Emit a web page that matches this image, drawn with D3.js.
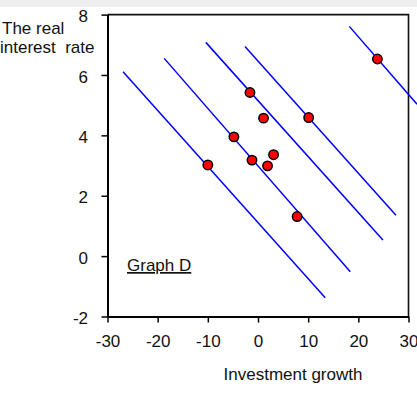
<!DOCTYPE html>
<html>
<head>
<meta charset="utf-8">
<script src="https://cdn.jsdelivr.net/npm/d3@7"></script>
<style>
  body { margin: 0; background: #fff; }
  svg { display: block; font-family: "Liberation Sans", Arial, sans-serif; }
</style>
</head>
<body>
<div id="chart"></div>
<script>
// points: investment growth vs real interest rate
const growth = [-10.0, -4.8, -1.6, -1.2, 1.1, 1.9, 3.1, 7.8, 10.1, 23.8];
const rate   = [3.02, 3.95, 5.42, 3.18, 4.57, 2.99, 3.36, 1.31, 4.59, 6.53];

// parallel blue lines, start and end points [x, y]
const lineStarts = [[-26.9, 6.11], [-18.7, 6.55], [-10.4, 7.08], [-2.6, 6.94], [18.2, 7.61]];
const lineEnds   = [[13.4, -1.38], [18.4, -0.52], [24.9, 0.53], [27.5, 1.35], [31.7, 5.03]];

const xTicks = [-30, -20, -10, 0, 10, 20, 30];
const yTicks = [-2, 0, 2, 4, 6, 8];

const W = 417, H = 394;
const plot = { left: 107.5, right: 408.5, top: 14.6, bottom: 316.5 };

const svg = d3.select('#chart').append('svg')
    .attr('width', W)
    .attr('height', H);

// light grey strip along the top edge
svg.append('rect')
    .attr('x', 0).attr('y', 0)
    .attr('width', W).attr('height', 7)
    .attr('fill', '#efefef');

const x = d3.scaleLinear().domain([-30, 30]).range([plot.left, plot.right]);
const y = d3.scaleLinear().domain([-2, 8]).range([plot.bottom, plot.top]);

// frame: top and right edges
svg.append('path')
    .attr('d', `M${plot.left},${plot.top}H${plot.right}V${plot.bottom}`)
    .attr('fill', 'none')
    .attr('stroke', '#111')
    .attr('stroke-width', 1.6);

// the blue lines
const segs = lineStarts.map((s, i) => ({ s: s, e: lineEnds[i] }));
svg.append('g').selectAll('line')
    .data(segs)
    .join('line')
    .attr('x1', d => x(d.s[0]))
    .attr('y1', d => y(d.s[1]))
    .attr('x2', d => x(d.e[0]))
    .attr('y2', d => y(d.e[1]))
    .attr('stroke', '#0000ff')
    .attr('stroke-width', 1.5);

// axes (plain hyphen for negatives, like the original)
const fmt = d => String(d);
const yAxis = d3.axisLeft(y).tickValues(yTicks).tickFormat(fmt)
    .tickSize(6).tickSizeOuter(0).tickPadding(13.5);
const yG = svg.append('g')
    .attr('transform', `translate(${plot.left},0)`)
    .call(yAxis);

const xAxis = d3.axisBottom(x).tickValues(xTicks).tickFormat(fmt)
    .tickSize(6).tickSizeOuter(0);
const xG = svg.append('g')
    .attr('transform', `translate(0,${plot.bottom})`)
    .call(xAxis);

[yG, xG].forEach(g => {
    g.select('.domain').attr('stroke', '#000').attr('stroke-width', 2);
    g.selectAll('.tick line').attr('stroke', '#000').attr('stroke-width', 1.5);
    g.selectAll('.tick text')
        .attr('fill', '#111')
        .style('font-size', '17px')
        .style('font-family', '"Liberation Sans", Arial, sans-serif');
});
yG.selectAll('.tick text').attr('dy', '0.42em');
xG.selectAll('.tick text').attr('y', 30).attr('dy', 0);

// points
svg.append('g').selectAll('circle')
    .data(growth.map((g, i) => ({ g: g, r: rate[i] })))
    .join('circle')
    .attr('cx', d => x(d.g))
    .attr('cy', d => y(d.r))
    .attr('r', 4.7)
    .attr('fill', '#ff0000')
    .attr('stroke', '#000')
    .attr('stroke-width', 1.5);

// titles
svg.append('text')
    .attr('x', 2).attr('y', 34)
    .style('font-size', '17px')
    .attr('fill', '#111')
    .text('The real');

svg.append('text')
    .attr('x', 0).attr('y', 53)
    .style('font-size', '17px')
    .style('white-space', 'pre')
    .attr('fill', '#111')
    .text('interest  rate');

svg.append('text')
    .attr('x', 293).attr('y', 380)
    .attr('text-anchor', 'middle')
    .style('font-size', '17px')
    .attr('fill', '#111')
    .text('Investment growth');

svg.append('text')
    .attr('x', 127).attr('y', 271)
    .style('font-size', '17px')
    .style('text-decoration', 'underline')
    .attr('fill', '#111')
    .text('Graph D');
</script>
</body>
</html>
